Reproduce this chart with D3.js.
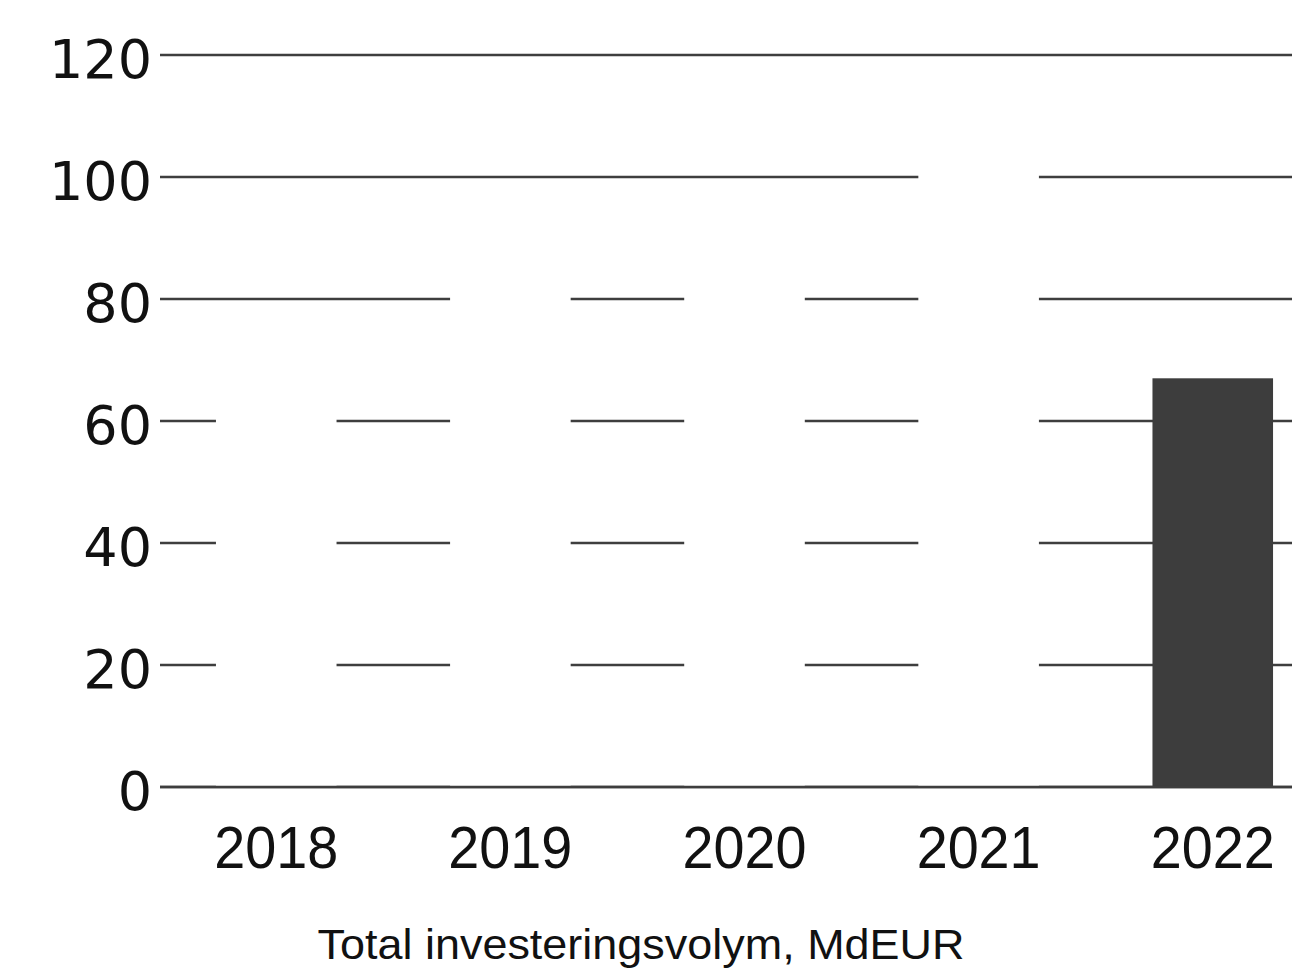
<!DOCTYPE html>
<html><head><meta charset="utf-8">
<script src="https://cdn.jsdelivr.net/npm/d3@7"></script>
<style>body{margin:0;background:#fff;}svg{display:block;}</style>
</head><body>
<svg id="c" width="1292" height="971"></svg>
<script>
const categories = ["2018", "2019", "2020", "2021", "2022"];
const values = [72, 88, 85, 108, 67];
const barColors = ["#ffffff", "#ffffff", "#ffffff", "#ffffff", "#3d3d3d"];
const yTicks = [0, 20, 40, 60, 80, 100, 120];
const title = "Total investeringsvolym, MdEUR";

const svg = d3.select("#c");
const x = d3.scaleBand().domain(categories).range([160, 1329]).paddingInner(0.485).paddingOuter(0.239);
const y = d3.scaleLinear().domain([0, 120]).range([787, 55]);

// gridlines
svg.append("g").selectAll("line").data(yTicks).join("line")
  .attr("x1", 160).attr("x2", 1292)
  .attr("y1", d => y(d)).attr("y2", d => y(d))
  .attr("stroke", "#3e3e3e").attr("stroke-width", 2.4);

// bars
svg.append("g").selectAll("rect").data(categories).join("rect")
  .attr("x", d => x(d)).attr("width", x.bandwidth())
  .attr("y", (d, i) => y(values[i])).attr("height", (d, i) => y(0) - y(values[i]))
  .attr("fill", (d, i) => barColors[i]);

// baseline redrawn over white bars
svg.append("line").attr("x1", 160).attr("x2", 1292).attr("y1", y(0)).attr("y2", y(0))
  .attr("stroke", "#3e3e3e").attr("stroke-width", 2.4);

// y axis
const yAxis = d3.axisLeft(y).tickValues(yTicks).tickSize(0).tickPadding(6);
const gy = svg.append("g").attr("transform", "translate(158,0)").call(yAxis);
gy.select(".domain").remove();
gy.selectAll("text").attr("font-family", "DejaVu Sans, sans-serif")
  .attr("font-size", 54).attr("fill", "#111").attr("dy", "0.42em");

// x axis
const xAxis = d3.axisBottom(x).tickSize(0).tickPadding(0);
const gx = svg.append("g").attr("transform", "translate(0,787)").call(xAxis);
gx.select(".domain").remove();
gx.selectAll("text").attr("font-family", "Liberation Sans, Arial, sans-serif")
  .attr("font-size", 60).attr("fill", "#111").attr("y", 81).attr("dy", 0)
  .attr("textLength", 124).attr("lengthAdjust", "spacingAndGlyphs");

svg.append("text").attr("x", 641).attr("y", 959).attr("text-anchor", "middle")
  .attr("font-family", "Liberation Sans Narrow, Liberation Sans, Arial, sans-serif")
  .attr("font-size", 43).attr("fill", "#111")
  .attr("textLength", 647).attr("lengthAdjust", "spacingAndGlyphs")
  .text(title);
</script>
</body></html>
